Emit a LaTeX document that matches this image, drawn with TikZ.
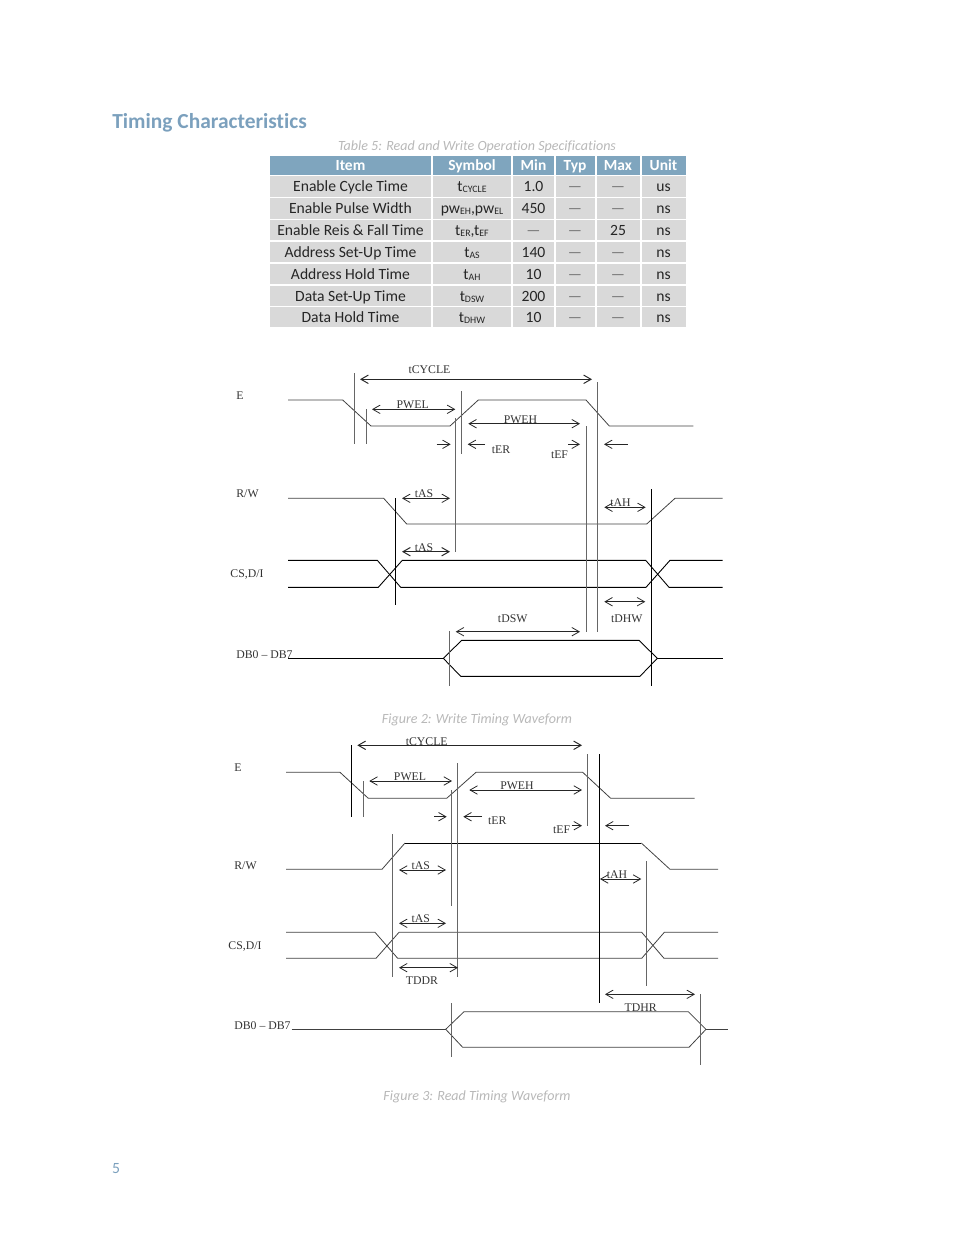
\documentclass[tikz,border=0pt]{standalone}
\usepackage{fontspec}
\setmainfont[Ligatures=NoCommon]{Carlito}
\newfontfamily\wavefont{Liberation Serif}
\usetikzlibrary{arrows.meta}
\definecolor{headblue}{HTML}{7FA5BE}
\definecolor{titleblue}{HTML}{7BA0BD}
\definecolor{rowgray}{HTML}{D9D9D9}
\definecolor{capgray}{HTML}{B8B8B8}
\definecolor{linegray}{HTML}{666666}
\newcommand{\lowtxt}[1]{\raisebox{-0.6pt}{\fontsize{5.6}{6}\selectfont #1}}
\newcommand{\nilval}{\textcolor{black!55}{—}}
\tikzset{
    cell/.style={fill=rowgray, inner sep=0pt, text height=6.6pt, text depth=1pt, text=black!85, font=\fontsize{8.9}{10}\selectfont},
    head/.style={cell, fill=headblue, text=white, font=\fontsize{8.8}{10}\selectfont\bfseries},
    wide1/.style={minimum width=3.22cm},
    wide2/.style={minimum width=1.56cm},
    wide3/.style={minimum width=0.82cm},
    wide4/.style={minimum width=0.78cm},
    wide5/.style={minimum width=0.86cm},
    wide6/.style={minimum width=0.88cm},
    tall1/.style={minimum height=0.38cm},
    tall2/.style={minimum height=0.42cm},
    tall3/.style={minimum height=0.40cm, text height=7.4pt},
    caption/.style={text=capgray, font=\fontsize{8}{9}\selectfont\itshape},
    lab/.style={inner sep=0pt, text=black!80, font=\wavefont\fontsize{6.7}{8}\selectfont},
    wave/.style={line width=0.45pt, color=black!75},
    waveblack/.style={line width=0.5pt, color=black},
    guide/.style={line width=0.4pt, color=linegray},
    guideblack/.style={line width=0.5pt, color=black},
    dim/.style={line width=0.45pt, color=black!85, arrows={Straight Barb[length=4.2pt,width=4.8pt]-Straight Barb[length=4.2pt,width=4.8pt]}},
    dimr/.style={line width=0.45pt, color=black!85, arrows={-Straight Barb[length=4.2pt,width=4.8pt]}},
}
\begin{document}
\begin{tikzpicture}[x=0.02cm, y=-0.02cm]
    \useasboundingbox (0,0) rectangle (954,1235);

    % Heading and table
    \node[anchor=west, inner sep=0pt, text=titleblue, font=\fontsize{12.2}{14}\selectfont\bfseries] (title) at (112,123) {Timing Characteristics};
    \node[caption] (tablecap) at (477,146.5) {Table 5: Read and Write Operation Specifications};

    \node[head, wide1, tall1] (hitem) at (350.5,165.5) {Item};
    \node[head, wide2, tall1] (hsym) at (472,165.5) {Symbol};
    \node[head, wide3, tall1] (hmin) at (533.5,165.5) {Min};
    \node[head, wide4, tall1] (htyp) at (575,165.5) {Typ};
    \node[head, wide5, tall1] (hmax) at (618,165.5) {Max};
    \node[head, wide6, tall1] (hunit) at (663.5,165.5) {Unit};

    \node[cell, wide1, tall2] (a1) at (350.5,186.5) {Enable Cycle Time};
    \node[cell, wide2, tall2] (b1) at (472,186.5) {t\lowtxt{CYCLE}};
    \node[cell, wide3, tall2] (c1) at (533.5,186.5) {1.0};
    \node[cell, wide4, tall2] (d1) at (575,186.5) {\nilval};
    \node[cell, wide5, tall2] (e1) at (618,186.5) {\nilval};
    \node[cell, wide6, tall2] (f1) at (663.5,186.5) {us};

    \node[cell, wide1, tall2] (a2) at (350.5,208.5) {Enable Pulse Width};
    \node[cell, wide2, tall2] (b2) at (472,208.5) {pw\lowtxt{EH},pw\lowtxt{EL}};
    \node[cell, wide3, tall2] (c2) at (533.5,208.5) {450};
    \node[cell, wide4, tall2] (d2) at (575,208.5) {\nilval};
    \node[cell, wide5, tall2] (e2) at (618,208.5) {\nilval};
    \node[cell, wide6, tall2] (f2) at (663.5,208.5) {ns};

    \node[cell, wide1, tall3] (a3) at (350.5,230) {Enable Reis \& Fall Time};
    \node[cell, wide2, tall3] (b3) at (472,230) {t\lowtxt{ER},t\lowtxt{EF}};
    \node[cell, wide3, tall3] (c3) at (533.5,230) {\nilval};
    \node[cell, wide4, tall3] (d3) at (575,230) {\nilval};
    \node[cell, wide5, tall3] (e3) at (618,230) {25};
    \node[cell, wide6, tall3] (f3) at (663.5,230) {ns};

    \node[cell, wide1, tall3] (a4) at (350.5,252) {Address Set-Up Time};
    \node[cell, wide2, tall3] (b4) at (472,252) {t\lowtxt{AS}};
    \node[cell, wide3, tall3] (c4) at (533.5,252) {140};
    \node[cell, wide4, tall3] (d4) at (575,252) {\nilval};
    \node[cell, wide5, tall3] (e4) at (618,252) {\nilval};
    \node[cell, wide6, tall3] (f4) at (663.5,252) {ns};

    \node[cell, wide1, tall3] (a5) at (350.5,274) {Address Hold Time};
    \node[cell, wide2, tall3] (b5) at (472,274) {t\lowtxt{AH}};
    \node[cell, wide3, tall3] (c5) at (533.5,274) {10};
    \node[cell, wide4, tall3] (d5) at (575,274) {\nilval};
    \node[cell, wide5, tall3] (e5) at (618,274) {\nilval};
    \node[cell, wide6, tall3] (f5) at (663.5,274) {ns};

    \node[cell, wide1, tall3] (a6) at (350.5,295.5) {Data Set-Up Time};
    \node[cell, wide2, tall3] (b6) at (472,295.5) {t\lowtxt{DSW}};
    \node[cell, wide3, tall3] (c6) at (533.5,295.5) {200};
    \node[cell, wide4, tall3] (d6) at (575,295.5) {\nilval};
    \node[cell, wide5, tall3] (e6) at (618,295.5) {\nilval};
    \node[cell, wide6, tall3] (f6) at (663.5,295.5) {ns};

    \node[cell, wide1, tall3] (a7) at (350.5,317) {Data Hold Time};
    \node[cell, wide2, tall3] (b7) at (472,317) {t\lowtxt{DHW}};
    \node[cell, wide3, tall3] (c7) at (533.5,317) {10};
    \node[cell, wide4, tall3] (d7) at (575,317) {\nilval};
    \node[cell, wide5, tall3] (e7) at (618,317) {\nilval};
    \node[cell, wide6, tall3] (f7) at (663.5,317) {ns};

    % Write timing: signal names
    \node[lab] (we) at (240,396) {E};
    \node[lab] (wrw) at (247.5,494) {R/W};
    \node[lab] (wcs) at (247,574) {CS,D/I};
    \node[lab] (wdb) at (264.5,654.5) {DB0 – DB7};

    % Write timing: waveforms
    \draw[wave] (288,400) -- (342.7,400) -- (371,426) -- (450,426) -- (478.3,400) -- (586,400) -- (609.3,426) -- (693.3,426);
    \draw[wave] (288,498.3) -- (383.7,498.3) -- (406.7,524) -- (646.7,524) -- (675,498.3) -- (722.7,498.3);
    \draw[waveblack] (288,560.3) -- (377.3,560.3) -- (400.7,587.3) -- (646,587.3) -- (670,560.3) -- (722.7,560.3);
    \draw[waveblack] (288,587.3) -- (378.3,587.3) -- (402.3,560.3) -- (645.7,560.3) -- (669,587.3) -- (722.7,587.3);
    \draw[waveblack] (288,658.3) -- (443.3,658.3);
    \draw[waveblack] (443.3,658.3) -- (461.7,640.3) -- (639,640.3) -- (657.3,658.3) -- (640,676.3) -- (460.7,676.3) -- cycle;
    \draw[waveblack] (657.3,658.3) -- (722.7,658.3);

    % Write timing: guide lines
    \draw[guide] (354.3,373) -- (354.3,444.3);
    \draw[guide] (366.3,409) -- (366.3,444.3);
    \draw[guide] (461.3,391) -- (461.3,453.7);
    \draw[guide] (455.3,418) -- (455.3,551.7);
    \draw[guide] (586.3,426) -- (586.3,631.7);
    \draw[guide] (597.3,382.3) -- (597.3,631.7);
    \draw[guideblack] (395.3,498.3) -- (395.3,605);
    \draw[guideblack] (651.3,489.3) -- (651.3,685.5);
    \draw[guide] (449.3,631) -- (449.3,685.7);

    % Write timing: arrows
    \coordinate (wcycA) at (360,379.3);
    \coordinate (wcycB) at (592,379.3);
    \draw[dim, line width=0.55pt] (wcycA) -- (wcycB);
    \node[lab] (wcyc) at (429.5,369.5) {tCYCLE};

    \coordinate (wpwlA) at (372,409.3);
    \coordinate (wpwlB) at (455.3,409.3);
    \draw[dim] (wpwlA) -- (wpwlB);
    \node[lab] (wpwl) at (412.7,405) {PWEL};

    \coordinate (wpwhA) at (468.3,423.7);
    \coordinate (wpwhB) at (580,423.7);
    \draw[dim] (wpwhA) -- (wpwhB);
    \node[lab] (wpwh) at (520.5,420) {PWEH};

    \coordinate (werA) at (436.7,444.3);
    \coordinate (werB) at (450.7,444.3);
    \draw[dimr] (werA) -- (werB);
    \coordinate (werC) at (485,444.3);
    \coordinate (werD) at (467.7,444.3);
    \draw[dimr] (werC) -- (werD);
    \node[lab] (wer) at (501,449.5) {tER};

    \coordinate (wefA) at (568,444.3);
    \coordinate (wefB) at (580,444.3);
    \draw[dimr] (wefA) -- (wefB);
    \coordinate (wefC) at (627.7,444.3);
    \coordinate (wefD) at (604,444.3);
    \draw[dimr] (wefC) -- (wefD);
    \node[lab] (wef) at (559.5,455) {tEF};

    \coordinate (wasA) at (402,498.3);
    \coordinate (wasB) at (450,498.3);
    \draw[dim] (wasA) -- (wasB);
    \node[lab] (was) at (424,494) {tAS};

    \coordinate (wbsA) at (402,551.7);
    \coordinate (wbsB) at (450,551.7);
    \draw[dim, line width=0.55pt] (wbsA) -- (wbsB);
    \node[lab] (wbs) at (424,547.5) {tAS};

    \coordinate (wahA) at (604.3,507.3);
    \coordinate (wahB) at (645.7,507.3);
    \draw[dim] (wahA) -- (wahB);
    \node[lab] (wah) at (620.5,503) {tAH};

    \coordinate (wdhA) at (604.3,601.7);
    \coordinate (wdhB) at (645.3,601.7);
    \draw[dim] (wdhA) -- (wdhB);
    \node[lab] (wdh) at (626.7,618.5) {tDHW};

    \coordinate (wdsA) at (455.7,631.7);
    \coordinate (wdsB) at (580,631.7);
    \draw[dim] (wdsA) -- (wdsB);
    \node[lab] (wds) at (512.7,618.5) {tDSW};

    \node[caption] (fig2cap) at (477,719.5) {Figure 2: Write Timing Waveform};

    % Read timing: signal names
    \node[lab] (re) at (238,768) {E};
    \node[lab] (rrw) at (245.5,866) {R/W};
    \node[lab] (rcs) at (245,946) {CS,D/I};
    \node[lab] (rdb) at (262.5,1026) {DB0 – DB7};

    % Read timing: waveforms
    \draw[wave] (286,772.3) -- (340,772.3) -- (368.3,798.3) -- (446.7,798.3) -- (476,772.3) -- (582.7,772.3) -- (610.7,798.3) -- (694.7,798.3);
    \draw[wave] (286,869.3) -- (382,869.3) -- (405,843);
    \draw[waveblack] (405,843) -- (641.3,843);
    \draw[wave] (641.3,843) -- (670,869.3) -- (718,869.3);
    \draw[wave] (286,932.3) -- (375,932.3) -- (397.7,958.3) -- (641.7,958.3) -- (664.3,932.3) -- (718,932.3);
    \draw[wave] (286,958.3) -- (376,958.3) -- (399,932.3) -- (641.7,932.3) -- (664,958.3) -- (718,958.3);
    \draw[wave] (291.7,1029.3) -- (445.7,1029.3);
    \draw[wave] (445.7,1029.3) -- (464,1011.7) -- (688.3,1011.7) -- (706,1029.3) -- (689,1047.3) -- (462.7,1047.3) -- cycle;
    \draw[wave] (706,1029.3) -- (728.3,1029.3);

    % Read timing: guide lines
    \draw[guideblack] (351.3,745) -- (351.3,816.7);
    \draw[guide] (363.3,781) -- (363.3,816.7);
    \draw[guide] (457.3,763.3) -- (457.3,976.7);
    \draw[guide] (451.3,790) -- (451.3,905.7);
    \draw[guide] (587.3,754) -- (587.3,825.7);
    \draw[guideblack] (599.3,754) -- (599.3,1003.3);
    \draw[guide] (392.3,834) -- (392.3,976.7);
    \draw[guide] (646.3,861) -- (646.3,985.7);
    \draw[guide] (451.3,1003.3) -- (451.3,1056.7);
    \draw[guide] (700,994.3) -- (700,1065);

    % Read timing: arrows
    \coordinate (rcycA) at (357.3,745.3);
    \coordinate (rcycB) at (582,745.3);
    \draw[dim, line width=0.55pt] (rcycA) -- (rcycB);
    \node[lab] (rcyc) at (426.7,741.5) {tCYCLE};

    \coordinate (rpwlA) at (369.3,781);
    \coordinate (rpwlB) at (452,781);
    \draw[dim] (rpwlA) -- (rpwlB);
    \node[lab] (rpwl) at (410,776.5) {PWEL};

    \coordinate (rpwhA) at (469.3,790);
    \coordinate (rpwhB) at (582,790);
    \draw[dim] (rpwhA) -- (rpwhB);
    \node[lab] (rpwh) at (517,785.5) {PWEH};

    \coordinate (rerA) at (434,816.7);
    \coordinate (rerB) at (446.7,816.7);
    \draw[dimr] (rerA) -- (rerB);
    \coordinate (rerC) at (482,816.7);
    \coordinate (rerD) at (463.3,816.7);
    \draw[dimr] (rerC) -- (rerD);
    \node[lab] (rer) at (497.3,821) {tER};

    \coordinate (refA) at (571.7,825.7);
    \coordinate (refB) at (582,825.7);
    \draw[dimr] (refA) -- (refB);
    \coordinate (refC) at (629.3,825.7);
    \coordinate (refD) at (605,825.7);
    \draw[dimr] (refC) -- (refD);
    \node[lab] (ref) at (561.7,829.5) {tEF};

    \coordinate (rasA) at (399,870);
    \coordinate (rasB) at (446,870);
    \draw[dim] (rasA) -- (rasB);
    \node[lab] (ras) at (420.7,865.7) {tAS};

    \coordinate (rbsA) at (399,923.3);
    \coordinate (rbsB) at (446,923.3);
    \draw[dim] (rbsA) -- (rbsB);
    \node[lab] (rbs) at (420.7,918.5) {tAS};

    \coordinate (rahA) at (600,879);
    \coordinate (rahB) at (641.3,879);
    \draw[dim] (rahA) -- (rahB);
    \node[lab] (rah) at (617,874.7) {tAH};

    \coordinate (rddA) at (399,967.7);
    \coordinate (rddB) at (458,967.7);
    \draw[dim] (rddA) -- (rddB);
    \node[lab] (rdd) at (422,981) {TDDR};

    \coordinate (rdhA) at (605,994.3);
    \coordinate (rdhB) at (695,994.3);
    \draw[dim] (rdhA) -- (rdhB);
    \node[lab] (rdh) at (640.7,1007.5) {TDHR};

    \node[caption] (fig3cap) at (477,1097) {Figure 3: Read Timing Waveform};
    \node[text=titleblue, inner sep=0pt, font=\fontsize{8.9}{10}\selectfont] (pagenum) at (116,1168.5) {5};
\end{tikzpicture}
\end{document}
